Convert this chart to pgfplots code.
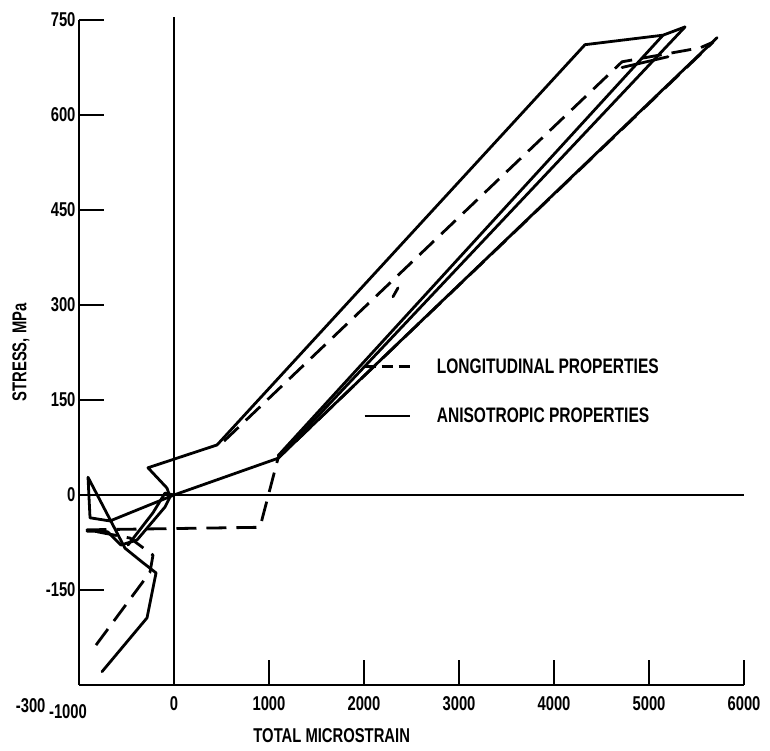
\documentclass[border=0pt]{standalone}
\usepackage{fontspec}
\setmainfont{Liberation Sans}[FakeStretch=0.74]
\usepackage{pgfplots}
\pgfplotsset{compat=1.18}
\begin{document}
\begin{tikzpicture}[font=\fontsize{20}{22}\selectfont\bfseries]
\begin{axis}[
  scale only axis, width=665pt, height=665pt,
  xmin=-1000, xmax=6000, ymin=-300, ymax=750,
  axis x line=bottom, axis y line=left,
  axis line style={-, line width=2.2pt},
  xtick={-1000,0,1000,2000,3000,4000,5000,6000},
  ytick={-300,-150,0,150,300,450,600,750},
  xticklabels={{\hspace*{-22pt}\raisebox{-7pt}[14.5pt][0pt]{-1000}},0,1000,2000,3000,4000,5000,6000},
  yticklabels={{\raisebox{-28pt}[0pt][0pt]{-300\kern30pt}},-150,0,150,300,450,600,750},
  xticklabel style={yshift=-8pt},
  tick align=inside, major tick length=25pt,
  tick style={line width=1.8pt, black},
  /pgf/number format/assume math mode=true,
  /pgf/number format/set thousands separator={},
  scaled ticks=false,
  xlabel={TOTAL MICROSTRAIN},
  ylabel={STRESS, MPa},
  xlabel style={at={(ticklabel cs:0.38)}, anchor=near ticklabel, inner sep=1pt, yshift=-13pt},
  ylabel style={at={(axis description cs:0,0.5)}, anchor=center, yshift=58pt},
  legend style={at={(rel axis cs:0.427,0.494)}, anchor=north west, draw=none, fill=none,
     row sep=29pt, inner sep=0pt, cells={anchor=west}, font=\fontsize{21}{22}\selectfont\bfseries},
  legend cell align=left,
  legend image code/.code={\draw[#1] (0pt,0pt) -- (45pt,0pt);},
  clip=false,
]
\path (rel axis cs:0,0) ++(-79pt,-66pt);
\path (rel axis cs:1,1) ++(26pt,20pt);
\draw[line width=1.6pt] (axis cs:0,-300) -- (axis cs:0,755);
\draw[line width=1.6pt] (axis cs:-1000,0) -- (axis cs:6000,0);

\pgfplotsset{sol/.style={black, line width=2.8pt, line join=round, line cap=round},
             das/.style={black, line width=2.8pt, line join=round, dash pattern=on 20pt off 10pt}}

% solid (anisotropic)
\addplot[sol, forget plot] coordinates {
 (5379,739) (5147,726) (4326,711) (453,79) (-274,43) (-74,11) (-42,-3) (-95,-19)
 (-389,-71) (-558,-79) (-700,-58) (-916,-57)
};
\addplot[sol, forget plot] coordinates {(5379,739) (1095,58)};
\addplot[sol, forget plot] coordinates {(5147,726) (1095,62)};
\addplot[sol, forget plot] coordinates {
 (5716,722) (1095,58) (0,0) (-674,-41) (-884,-36) (-905,28) (-516,-84)
 (-326,-107) (-189,-123) (-284,-194) (-758,-279)
};
\addplot[sol, forget plot] coordinates {(-484,-79) (-221,-28) (-95,3) (0,0)};
\addplot[sol, forget plot] coordinates {(4716,675) (5200,692)};

% dashed (longitudinal)
\addplot[das, forget plot] coordinates {
 (-821,-237) (-253,-122) (-221,-95) (-463,-68) (-916,-55) (905,-51) (1095,58)
 (5674,715) (5537,706) (4716,684) (484,79)
};
\addplot[sol, forget plot] coordinates {(2305,313) (2358,327)};

\addlegendimage{black, line width=2.7pt, dash pattern=on 11pt off 6pt}
\addlegendentry{\hspace{24pt}LONGITUDINAL PROPERTIES}
\addlegendimage{black, line width=2.7pt}
\addlegendentry{\hspace{24pt}ANISOTROPIC PROPERTIES}
\end{axis}
\end{tikzpicture}
\end{document}
